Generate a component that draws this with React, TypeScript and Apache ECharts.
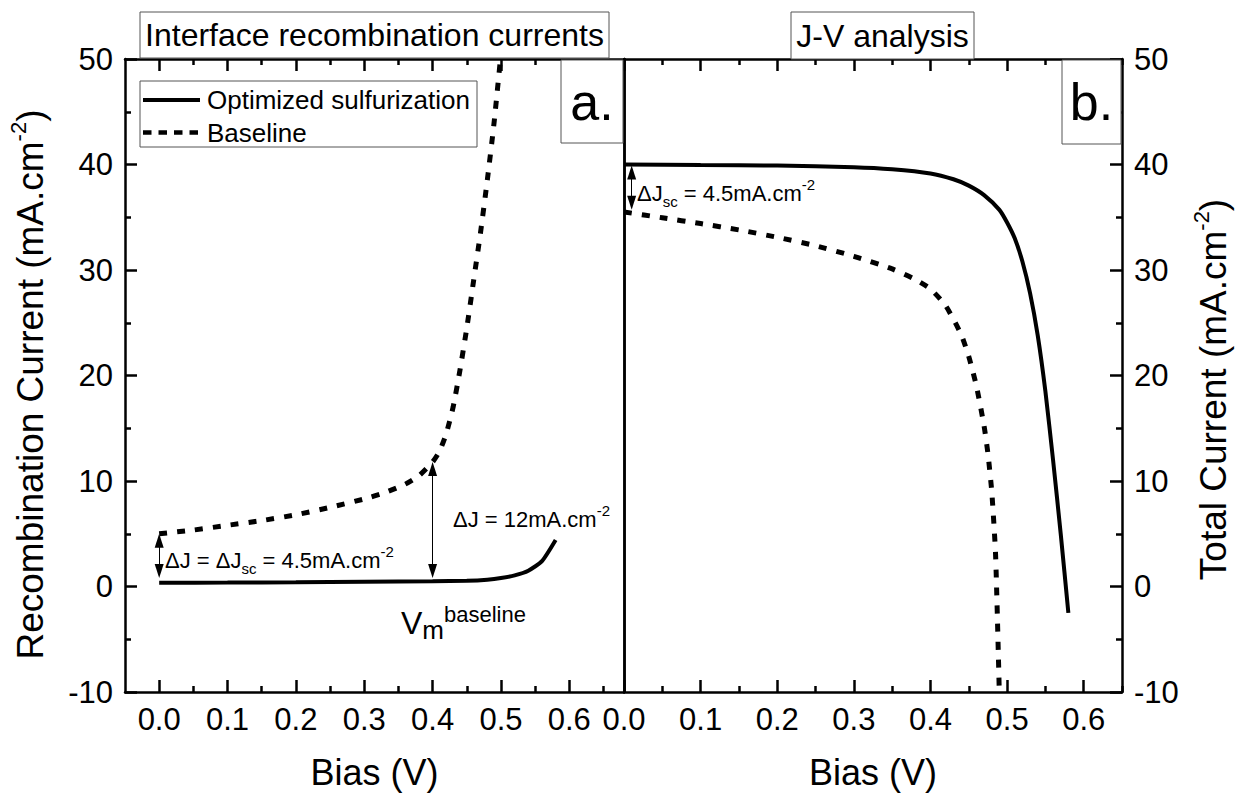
import React, { useEffect, useRef } from "react";
import * as echarts from "echarts";

const FONT = "'Liberation Sans', Arial, Helvetica, sans-serif";

// ---- Panel a: interface recombination currents ----
const recombBiasOpt = [0, 0.1, 0.2, 0.3, 0.4, 0.45, 0.48, 0.5, 0.52, 0.54, 0.56, 0.58];
const recombOpt = [0.35, 0.37, 0.4, 0.45, 0.5, 0.55, 0.65, 0.8, 1.05, 1.5, 2.4, 4.4];
const recombBiasBase = [0, 0.05, 0.1, 0.15, 0.2, 0.25, 0.3, 0.33, 0.36, 0.38, 0.4, 0.41, 0.42, 0.43, 0.44, 0.45, 0.46, 0.47, 0.48, 0.49, 0.5];
const recombBase = [5.0, 5.35, 5.8, 6.25, 6.8, 7.5, 8.3, 8.9, 9.7, 10.5, 11.8, 12.8, 14.5, 17, 20.5, 24.5, 29, 33.5, 38.5, 44, 50.5];

// ---- Panel b: J-V analysis ----
const jvBiasOpt = [0, 0.1, 0.2, 0.3, 0.35, 0.4, 0.43, 0.45, 0.47, 0.49, 0.5, 0.51, 0.52, 0.53, 0.54, 0.55, 0.56, 0.57, 0.58];
const jvOpt = [40, 39.95, 39.9, 39.75, 39.55, 39.15, 38.6, 38.0, 37.1, 35.7, 34.5, 33.0, 30.8, 27.8, 23.8, 18.5, 12.0, 5.0, -2.5];
const jvBiasBase = [0, 0.05, 0.1, 0.15, 0.2, 0.25, 0.3, 0.35, 0.38, 0.4, 0.42, 0.44, 0.45, 0.46, 0.47, 0.475, 0.48, 0.485, 0.49];
const jvBase = [35.5, 34.95, 34.4, 33.8, 33.1, 32.3, 31.3, 30.1, 29.1, 28.2, 26.6, 23.9, 21.8, 19.0, 15.2, 12.6, 9.0, 3.0, -10.5];

// ---- Axis ticks ----
const xMajorTicks = [0, 0.1, 0.2, 0.3, 0.4, 0.5, 0.6];
const xMinorTicks = [0.05, 0.15, 0.25, 0.35, 0.45, 0.55, 0.65];
const xRangeA = [-0.05, 0.68];
const xRangeB = [0, 0.65];
const yRange = [-10, 50];
const yStep = 10;

// ---- Annotation arrows: [x, yFrom, yTo] ----
const arrowDeltaJscA = [0, 5.0, 0.8];
const arrowDeltaJA = [0.4, 11.8, 0.8];
const arrowDeltaJscB = [0.01, 39.9, 35.7];

const zip = (xs: number[], ys: number[]) => xs.map((x, i) => [x, ys[i]]);

const BLACK = "#000";
const mkAxisLine = () => ({ show: true, onZero: false, lineStyle: { color: BLACK, width: 2.5 } });
const mkTickLine = () => ({ color: BLACK, width: 2.5 });
const mkTickLabel = () => ({ color: BLACK, fontSize: 31, fontFamily: FONT });

function supName(main: string) {
  return `{a|${main} (mA.cm}{s|-2}{a|)}`;
}
const mkNameStyle = (shiftDown: number) => ({
  color: BLACK,
  fontFamily: FONT,
  fontSize: 37,
  lineHeight: 46,
  padding: [0, shiftDown * 2, 0, 0],
  rich: {
    a: { fontSize: 37, lineHeight: 46, fontFamily: FONT, color: BLACK },
    s: { fontSize: 22, lineHeight: 22, verticalAlign: "top", fontFamily: FONT, color: BLACK },
  },
});

function xAxesFor(grid: number, range: number[]) {
  const base = () => ({ type: "value", gridIndex: grid, min: range[0], max: range[1], splitLine: { show: false } });
  return [
    {
      ...base(),
      position: "bottom",
      axisLine: mkAxisLine(),
      axisTick: { show: true, inside: true, length: 12, customValues: xMajorTicks, lineStyle: mkTickLine() },
      axisLabel: { show: true, customValues: xMajorTicks, formatter: (v: number) => v.toFixed(1), margin: 12, ...mkTickLabel() },
      name: "Bias (V)",
      nameLocation: "middle",
      nameGap: 62,
      nameTextStyle: { color: BLACK, fontFamily: FONT, fontSize: 36 },
    },
    {
      ...base(),
      position: "bottom",
      axisLine: { show: false, onZero: false },
      axisTick: { show: true, inside: true, length: 6, customValues: xMinorTicks, lineStyle: mkTickLine() },
      axisLabel: { show: false },
    },
    {
      ...base(),
      position: "top",
      axisLine: mkAxisLine(),
      axisTick: { show: true, inside: true, length: 12, customValues: xMajorTicks, lineStyle: mkTickLine() },
      axisLabel: { show: false },
    },
    {
      ...base(),
      position: "top",
      axisLine: { show: false, onZero: false },
      axisTick: { show: true, inside: true, length: 6, customValues: xMinorTicks, lineStyle: mkTickLine() },
      axisLabel: { show: false },
    },
  ];
}

function mainYAxis(grid: number, position: string, name: string, gap: number, shiftDown: number) {
  return {
    type: "value",
    gridIndex: grid,
    position,
    min: yRange[0],
    max: yRange[1],
    interval: yStep,
    axisLine: mkAxisLine(),
    axisTick: { show: true, inside: true, length: 12, lineStyle: mkTickLine() },
    minorTick: { show: true, splitNumber: 2, length: 6, lineStyle: mkTickLine() },
    axisLabel: { margin: 12, ...mkTickLabel() },
    splitLine: { show: false },
    minorSplitLine: { show: false },
    name,
    nameLocation: "middle",
    nameRotate: 90,
    nameGap: gap,
    nameTextStyle: mkNameStyle(shiftDown),
  };
}
function plainYAxis(grid: number, position: string) {
  return {
    type: "value",
    gridIndex: grid,
    position,
    min: yRange[0],
    max: yRange[1],
    interval: yStep,
    axisLine: mkAxisLine(),
    axisTick: { show: false },
    axisLabel: { show: false },
    splitLine: { show: false },
  };
}

const ARROW_LEN = 14; // px
const PX_PER_UNIT = 633 / (yRange[1] - yRange[0]);
function arrowLine(a: number[]) {
  const half = ARROW_LEN / 2 / PX_PER_UNIT;
  const dir = a[1] > a[2] ? 1 : -1;
  return [{ coord: [a[0], a[1] - dir * half] }, { coord: [a[0], a[2] + dir * half] }];
}
const arrowMarkLine = (arrows: number[][]) => ({
  silent: true,
  symbol: ["triangle", "triangle"],
  symbolSize: [9, ARROW_LEN],
  lineStyle: { color: BLACK, width: 1, type: "solid" },
  label: { show: false },
  emphasis: { disabled: true },
  data: arrows.map(arrowLine),
});

const annRich = {
  m: { fontSize: 22, lineHeight: 32, fontFamily: FONT, color: BLACK },
  sub: { fontSize: 15, lineHeight: 15, verticalAlign: "bottom", fontFamily: FONT, color: BLACK },
  sup: { fontSize: 15, lineHeight: 15, verticalAlign: "top", fontFamily: FONT, color: BLACK },
};
const vmRich = {
  v: { fontSize: 32, lineHeight: 40, fontFamily: FONT, color: BLACK },
  sub: { fontSize: 26, lineHeight: 18, verticalAlign: "bottom", fontFamily: FONT, color: BLACK },
  sup: { fontSize: 22, lineHeight: 20, verticalAlign: "top", fontFamily: FONT, color: BLACK },
};

function boxText(x: number, y: number, w: number, h: number, text: string, size: number, stroke: string) {
  return [
    { type: "rect", z: 100, shape: { x, y, width: w, height: h }, style: { fill: "#fff", stroke, lineWidth: 1 } },
    {
      type: "text",
      z: 101,
      style: { text, x: x + w / 2, y: y + h / 2, align: "center", verticalAlign: "middle", fontSize: size, fontFamily: FONT, fill: BLACK },
    },
  ];
}

function buildOption() {
  return {
    animation: false,
    backgroundColor: "#fff",
    grid: [
      { left: 125, top: 59, width: 499, height: 633 },
      { left: 624, top: 59, width: 498, height: 633 },
    ],
    xAxis: [...xAxesFor(0, xRangeA), ...xAxesFor(1, xRangeB)],
    yAxis: [
      mainYAxis(0, "left", supName("Recombination Current"), 72, 9),
      plainYAxis(0, "right"),
      plainYAxis(1, "left"),
      mainYAxis(1, "right", supName("Total Current"), 68, 14),
    ],
    series: [
      {
        name: "Optimized sulfurization",
        type: "line",
        xAxisIndex: 0,
        yAxisIndex: 0,
        data: zip(recombBiasOpt, recombOpt),
        symbol: "none",
        smooth: 0.2,
        lineStyle: { color: BLACK, width: 4 },
        markLine: arrowMarkLine([arrowDeltaJscA, arrowDeltaJA]),
      },
      {
        name: "Baseline",
        type: "line",
        xAxisIndex: 0,
        yAxisIndex: 0,
        data: zip(recombBiasBase, recombBase),
        symbol: "none",
        smooth: 0.2,
        lineStyle: { color: BLACK, width: 5, type: [8, 10] },
      },
      {
        name: "Optimized sulfurization (J-V)",
        type: "line",
        xAxisIndex: 4,
        yAxisIndex: 3,
        data: zip(jvBiasOpt, jvOpt),
        symbol: "none",
        smooth: 0.2,
        lineStyle: { color: BLACK, width: 4 },
        markLine: arrowMarkLine([arrowDeltaJscB]),
      },
      {
        name: "Baseline (J-V)",
        type: "line",
        xAxisIndex: 4,
        yAxisIndex: 3,
        data: zip(jvBiasBase, jvBase),
        symbol: "none",
        smooth: 0.2,
        lineStyle: { color: BLACK, width: 5, type: [8, 10] },
      },
    ],
    graphic: [
      ...boxText(140, 12, 469, 46, "Interface recombination currents", 32, "#555"),
      ...boxText(791, 12, 183, 47, "J-V analysis", 32, "#555"),
      ...boxText(561, 60, 62, 83, "a.", 52, "#555"),
      ...boxText(1062, 60, 59, 84, "b.", 52, "#555"),
      // legend
      { type: "rect", z: 100, shape: { x: 140, y: 81, width: 337, height: 66 }, style: { fill: "#fff", stroke: "#555", lineWidth: 1 } },
      { type: "line", z: 101, shape: { x1: 143, y1: 100, x2: 200, y2: 100 }, style: { stroke: BLACK, lineWidth: 4 } },
      { type: "text", z: 101, style: { text: "Optimized sulfurization", x: 207, y: 100, verticalAlign: "middle", fontSize: 26, fontFamily: FONT, fill: BLACK } },
      { type: "line", z: 101, shape: { x1: 143, y1: 132.5, x2: 200, y2: 132.5 }, style: { stroke: BLACK, lineWidth: 4.5, lineDash: [8.5, 7] } },
      { type: "text", z: 101, style: { text: "Baseline", x: 207, y: 132.5, verticalAlign: "middle", fontSize: 26, fontFamily: FONT, fill: BLACK } },
      // annotations
      {
        type: "text",
        z: 101,
        style: { text: "{m|ΔJ = ΔJ}{sub|sc}{m| = 4.5mA.cm}{sup|-2}", rich: annRich, x: 165, y: 560, verticalAlign: "middle", fill: BLACK },
      },
      {
        type: "text",
        z: 101,
        style: { text: "{m|ΔJ = 12mA.cm}{sup|-2}", rich: annRich, x: 453, y: 519, verticalAlign: "middle", fill: BLACK },
      },
      {
        type: "text",
        z: 101,
        style: { text: "{m|ΔJ}{sub|sc}{m| = 4.5mA.cm}{sup|-2}", rich: annRich, x: 637, y: 193, verticalAlign: "middle", fill: BLACK },
      },
      {
        type: "text",
        z: 101,
        style: { text: "{v|V}{sub|m}{sup|baseline}", rich: vmRich, x: 401, y: 603, verticalAlign: "top", fill: BLACK },
      },
    ],
  };
}

export default function App() {
  const ref = useRef<HTMLDivElement>(null);
  useEffect(() => {
    const chart = echarts.init(ref.current as HTMLDivElement, null, { renderer: "svg" });
    chart.setOption(buildOption() as any);
    return () => chart.dispose();
  }, []);
  return (
    <div
      ref={ref}
      style={{ position: "fixed", left: 0, top: 0, width: 1238, height: 797, background: "#fff" }}
    />
  );
}
